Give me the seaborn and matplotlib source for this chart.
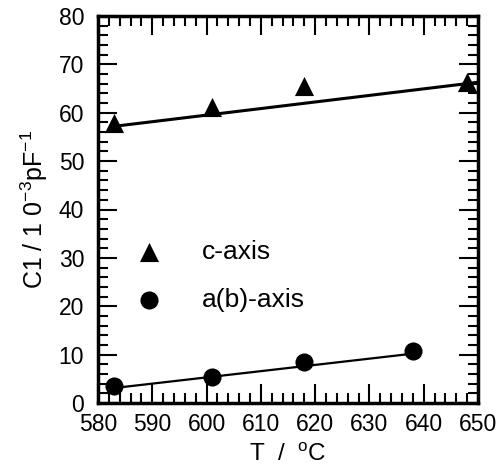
import numpy as np
import pandas as pd
import matplotlib
matplotlib.use("Agg")
import matplotlib.pyplot as plt
from matplotlib.ticker import MultipleLocator
import seaborn as sns

# data
c_T = [583, 601, 618, 648]
c_C1 = [57.9, 61.2, 65.5, 66.3]
ab_T = [583, 601, 618, 638]
ab_C1 = [3.5, 5.4, 8.5, 10.8]
# straight fitted lines (endpoints)
c_fit_T = [583, 650]
c_fit_C1 = [57.2, 66.3]
ab_fit_T = [583, 638]
ab_fit_C1 = [3.1, 10.2]

x_ticks = [580, 590, 600, 610, 620, 630, 640, 650]
y_ticks = [0, 10, 20, 30, 40, 50, 60, 70, 80]

sns.set_style("ticks")
plt.rcParams['font.family'] = ['Liberation Sans', 'DejaVu Sans']
plt.rcParams['mathtext.fontset'] = 'custom'
plt.rcParams['mathtext.rm'] = 'Liberation Sans'
plt.rcParams['text.color'] = 'black'
plt.rcParams['axes.labelcolor'] = 'black'
plt.rcParams['xtick.color'] = 'black'
plt.rcParams['ytick.color'] = 'black'

fig = plt.figure(figsize=(5.02, 4.66), dpi=100)
ax = fig.add_axes([98/502, 1 - 403/466, 380/502, 387/466])

df_c = pd.DataFrame({"T": c_T, "C1": c_C1})
df_ab = pd.DataFrame({"T": ab_T, "C1": ab_C1})
fit_c = pd.DataFrame({"T": c_fit_T, "C1": c_fit_C1})
fit_ab = pd.DataFrame({"T": ab_fit_T, "C1": ab_fit_C1})

sns.lineplot(data=fit_c, x="T", y="C1", ax=ax, color="black", lw=2.2, zorder=2)
sns.lineplot(data=fit_ab, x="T", y="C1", ax=ax, color="black", lw=1.6, zorder=2)
sns.scatterplot(data=df_c, x="T", y="C1", ax=ax, marker="^", s=190, color="black",
                edgecolor="black", linewidth=0, label="c-axis", zorder=3)
sns.scatterplot(data=df_ab, x="T", y="C1", ax=ax, marker="o", s=170, color="black",
                edgecolor="black", linewidth=0, label="a(b)-axis", zorder=3)

ax.set_xlim(580, 650)
ax.set_ylim(0, 80)
ax.set_xticks(x_ticks)
ax.set_yticks(y_ticks)
ax.xaxis.set_minor_locator(MultipleLocator(2))
ax.yaxis.set_minor_locator(MultipleLocator(2))
ax.tick_params(which="both", direction="in", top=True, right=True, width=1.5,
               labelsize=16.5, colors="black")
ax.tick_params(which="major", length=14)
ax.tick_params(which="minor", length=7)
ax.tick_params(axis="x", which="major", pad=7)
ax.tick_params(axis="y", which="major", pad=10)
for s in ax.spines.values():
    s.set_linewidth(2.5)
    s.set_color("black")

ax.set_xlabel("T  /  $\\mathregular{^o}$C", fontsize=17.5, labelpad=5.5)
ax.set_ylabel("C1 / 1 0$\\mathregular{^{-3}}$pF$\\mathregular{^{-1}}$", fontsize=18, labelpad=6)

leg = ax.legend(loc="center left", bbox_to_anchor=(0.037, 0.328), frameon=False,
                fontsize=19, handletextpad=1.0, labelspacing=0.9, borderaxespad=0)

fig.savefig("out.png", dpi=100)
